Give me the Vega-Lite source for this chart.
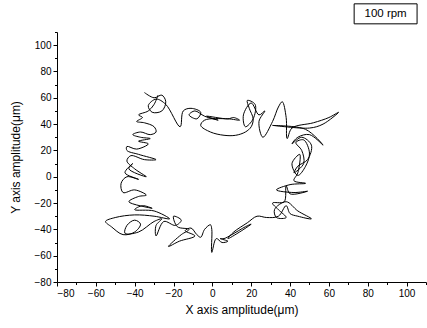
{
  "$schema": "https://vega.github.io/schema/vega-lite/v6.json",
  "width": 369,
  "height": 250,
  "autosize": {"type": "none"},
  "padding": {"left": 57, "top": 32, "right": 1, "bottom": 46},
  "background": "white",
  "config": {
    "view": {"stroke": null},
    "axis": {
      "domainColor": "black", "tickColor": "black", "labelColor": "black", "titleColor": "black",
      "labelFont": "Liberation Sans", "labelFontSize": 10, "titleFont": "Liberation Sans",
      "titleFontSize": 12, "titleFontWeight": "normal", "grid": false, "tickSize": 4
    }
  },
  "datasets": {
    "orbit": [
      {"i":0,"x":-35,"y":64},{"i":1,"x":-30,"y":60},{"i":2,"x":-26,"y":62},{"i":3,"x":-24,"y":57},{"i":4,"x":-26,"y":50},
      {"i":5,"x":-31,"y":49},{"i":6,"x":-33,"y":54},{"i":7,"x":-29,"y":59},{"i":8,"x":-24,"y":55},{"i":9,"x":-16.6,"y":38},
      {"i":10,"x":-15,"y":50},{"i":11,"x":-11,"y":52},{"i":12,"x":-6,"y":49},{"i":13,"x":-8,"y":44},{"i":14,"x":-12,"y":47},
      {"i":15,"x":-9,"y":50},{"i":16,"x":-4,"y":46},{"i":17,"x":3,"y":43},{"i":18,"x":-3,"y":46},{"i":19,"x":8,"y":44},
      {"i":20,"x":11,"y":45},{"i":21,"x":14,"y":43},{"i":22,"x":8,"y":44},{"i":23,"x":-4,"y":43},{"i":24,"x":-6,"y":39},
      {"i":25,"x":-1,"y":34},{"i":26,"x":6,"y":31.5},{"i":27,"x":12,"y":31.5},{"i":28,"x":17,"y":34},{"i":29,"x":20,"y":38},
      {"i":30,"x":21,"y":44},{"i":31,"x":19,"y":52},{"i":32,"x":18,"y":58},{"i":33,"x":22,"y":55},{"i":34,"x":21,"y":44},
      {"i":35,"x":17,"y":38},{"i":36,"x":16,"y":47},{"i":37,"x":20,"y":56},{"i":38,"x":24,"y":47},{"i":39,"x":27,"y":50},
      {"i":40,"x":24,"y":42},{"i":41,"x":26,"y":30},{"i":42,"x":31,"y":42},{"i":43,"x":34,"y":53},{"i":44,"x":36,"y":57},
      {"i":45,"x":38,"y":45},{"i":46,"x":38.5,"y":29},{"i":47,"x":41,"y":37},{"i":48,"x":52,"y":41},{"i":49,"x":60,"y":45},
      {"i":50,"x":65,"y":49},{"i":51,"x":57,"y":40},{"i":52,"x":50,"y":37},{"i":53,"x":31,"y":39},{"i":54,"x":48,"y":36},
      {"i":55,"x":57,"y":24},{"i":56,"x":50,"y":32},{"i":57,"x":44,"y":30},{"i":58,"x":41,"y":25},{"i":59,"x":46,"y":30},
      {"i":60,"x":51,"y":24},{"i":61,"x":49,"y":13},{"i":62,"x":44,"y":8},{"i":63,"x":42,"y":3},{"i":64,"x":47,"y":10},
      {"i":65,"x":46,"y":20},{"i":66,"x":43,"y":26},{"i":67,"x":47,"y":28},{"i":68,"x":50,"y":18},{"i":69,"x":48,"y":8},
      {"i":70,"x":44,"y":1},{"i":71,"x":41,"y":10},{"i":72,"x":45,"y":17},{"i":73,"x":44,"y":3},{"i":74,"x":42,"y":-3},
      {"i":75,"x":48,"y":-5},{"i":76,"x":40,"y":-6},{"i":77,"x":33,"y":-10},{"i":78,"x":42,"y":-12},{"i":79,"x":49,"y":-11},
      {"i":80,"x":40,"y":-13},{"i":81,"x":38,"y":-7},{"i":82,"x":37,"y":-19},{"i":83,"x":31,"y":-20},{"i":84,"x":34,"y":-25},
      {"i":85,"x":38,"y":-31},{"i":86,"x":33,"y":-31},{"i":87,"x":32,"y":-25},{"i":88,"x":38,"y":-19},{"i":89,"x":44,"y":-26},
      {"i":90,"x":51,"y":-32},{"i":91,"x":44,"y":-30},{"i":92,"x":40,"y":-28},{"i":93,"x":38,"y":-22},{"i":94,"x":34,"y":-30},
      {"i":95,"x":28,"y":-31},{"i":96,"x":23,"y":-30},{"i":97,"x":18,"y":-35},{"i":98,"x":11,"y":-42},{"i":99,"x":8,"y":-47},
      {"i":100,"x":14,"y":-42},{"i":101,"x":20,"y":-36},{"i":102,"x":17,"y":-38},{"i":103,"x":10,"y":-44},{"i":104,"x":6,"y":-47},
      {"i":105,"x":4,"y":-47},{"i":106,"x":8,"y":-49},{"i":107,"x":5,"y":-50},{"i":108,"x":2,"y":-47},{"i":109,"x":-0.3,"y":-57.5},
      {"i":110,"x":-0.3,"y":-40},{"i":111,"x":-1,"y":-36.5},{"i":112,"x":-4,"y":-40},{"i":113,"x":-6,"y":-46},{"i":114,"x":-8,"y":-44},
      {"i":115,"x":-11,"y":-39},{"i":116,"x":-14,"y":-41},{"i":117,"x":-9,"y":-45},{"i":118,"x":-17,"y":-49},{"i":119,"x":-22.6,"y":-53},
      {"i":120,"x":-16,"y":-44},{"i":121,"x":-12,"y":-40},{"i":122,"x":-18,"y":-38},{"i":123,"x":-20,"y":-30},{"i":124,"x":-16,"y":-33},
      {"i":125,"x":-19,"y":-37},{"i":126,"x":-25,"y":-34},{"i":127,"x":-29,"y":-45},{"i":128,"x":-29,"y":-37},{"i":129,"x":-26,"y":-32},
      {"i":130,"x":-30,"y":-34},{"i":131,"x":-38,"y":-42},{"i":132,"x":-45,"y":-43},{"i":133,"x":-44,"y":-37},{"i":134,"x":-40,"y":-33},
      {"i":135,"x":-37,"y":-36},{"i":136,"x":-40,"y":-42},{"i":137,"x":-46,"y":-44},{"i":138,"x":-52,"y":-38},{"i":139,"x":-55,"y":-34},
      {"i":140,"x":-50,"y":-31},{"i":141,"x":-40,"y":-29},{"i":142,"x":-30,"y":-30},{"i":143,"x":-22,"y":-32},{"i":144,"x":-30,"y":-26},
      {"i":145,"x":-40,"y":-25},{"i":146,"x":-36,"y":-22},{"i":147,"x":-31,"y":-24},{"i":148,"x":-43,"y":-19},{"i":149,"x":-38,"y":-15},
      {"i":150,"x":-34,"y":-14},{"i":151,"x":-40,"y":-10},{"i":152,"x":-46,"y":-12},{"i":153,"x":-47,"y":-5},{"i":154,"x":-44,"y":0},
      {"i":155,"x":-38,"y":-2},{"i":156,"x":-45,"y":3},{"i":157,"x":-41,"y":10},{"i":158,"x":-43,"y":6},{"i":159,"x":-34,"y":0},
      {"i":160,"x":-40,"y":6},{"i":161,"x":-44,"y":12},{"i":162,"x":-42,"y":16},{"i":163,"x":-35,"y":13},{"i":164,"x":-29,"y":13},
      {"i":165,"x":-38,"y":17},{"i":166,"x":-44,"y":20},{"i":167,"x":-44,"y":23},{"i":168,"x":-39,"y":21},{"i":169,"x":-33,"y":25},
      {"i":170,"x":-38,"y":27},{"i":171,"x":-32,"y":29},{"i":172,"x":-37,"y":30},{"i":173,"x":-41,"y":32},{"i":174,"x":-37,"y":34},
      {"i":175,"x":-32,"y":32},{"i":176,"x":-29,"y":34},{"i":177,"x":-30,"y":38},{"i":178,"x":-35,"y":41},{"i":179,"x":-39,"y":42},
      {"i":180,"x":-36,"y":45},{"i":181,"x":-38,"y":47},{"i":182,"x":-33,"y":50},{"i":183,"x":-30,"y":55},{"i":184,"x":-28,"y":62}
    ]
  },
  "layer": [
    {
      "data": {"name": "orbit"},
      "mark": {"type": "line", "interpolate": "catmull-rom", "color": "black", "strokeWidth": 1},
      "encoding": {
        "x": {"field": "x", "type": "quantitative", "scale": {"domain": [-80, 110], "nice": false},
          "axis": {"values": [-80,-60,-40,-20,0,20,40,60,80,100], "title": "X axis amplitude(μm)", "titlePadding": 6}},
        "y": {"field": "y", "type": "quantitative", "scale": {"domain": [-80, 110], "nice": false},
          "axis": {"values": [-80,-60,-40,-20,0,20,40,60,80,100], "title": "Y axis amplitude(μm)", "titlePadding": 12}},
        "order": {"field": "i", "type": "quantitative"}
      }
    },
    {
      "data": {"name": "orbit"},
      "mark": {"type": "point", "opacity": 0},
      "encoding": {
        "x": {"field": "x", "type": "quantitative",
          "axis": {"orient": "bottom", "values": [-70,-50,-30,-10,10,30,50,70,90,110], "labels": false, "tickSize": 2.5, "domain": false, "title": null}},
        "y": {"field": "y", "type": "quantitative",
          "axis": {"orient": "left", "values": [-70,-50,-30,-10,10,30,50,70,90,110], "labels": false, "tickSize": 2.5, "domain": false, "title": null}}
      }
    },
    {
      "data": {"values": [{}]},
      "mark": {"type": "rect", "fill": "white", "stroke": "black", "strokeWidth": 1, "clip": false},
      "encoding": {
        "x": {"datum": 73, "type": "quantitative", "axis": null},
        "x2": {"datum": 105.4},
        "y": {"datum": 131.4, "type": "quantitative", "axis": null},
        "y2": {"datum": 116.2}
      }
    },
    {
      "data": {"values": [{"label": "100 rpm"}]},
      "mark": {"type": "text", "font": "Liberation Sans", "fontSize": 11.5, "color": "black", "clip": false},
      "encoding": {
        "x": {"datum": 89.2, "type": "quantitative", "axis": null},
        "y": {"datum": 123.6, "type": "quantitative", "axis": null},
        "text": {"field": "label"}
      }
    }
  ],
  "resolve": {"axis": {"x": "independent", "y": "independent"}}
}
